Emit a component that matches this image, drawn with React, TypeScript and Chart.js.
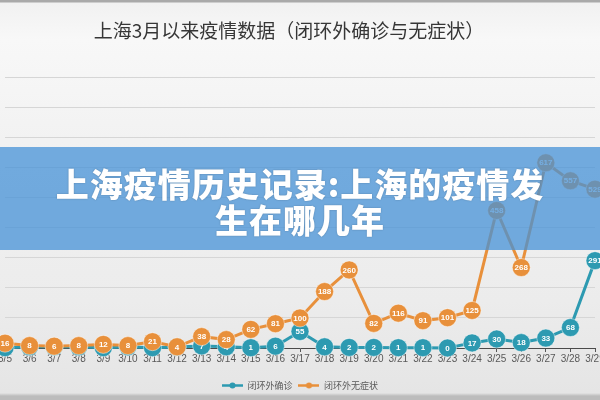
import React, { useEffect, useRef } from "react";
import { Chart, registerables } from "chart.js";

Chart.register(...registerables);

const categories = [
  "3/5", "3/6", "3/7", "3/8", "3/9", "3/10", "3/11", "3/12", "3/13", "3/14",
  "3/15", "3/16", "3/17", "3/18", "3/19", "3/20", "3/21", "3/22", "3/23", "3/24",
  "3/25", "3/26", "3/27", "3/28", "3/29",
];
const confirmedOutside = [
  1, 4, 4, 4, 1, 4, 1, 3, 7, 4,
  1, 6, 55, 4, 2, 2, 1, 1, 0, 17,
  30, 18, 33, 68, 291,
];
const asymptomaticOutside = [
  16, 8, 6, 8, 12, 8, 21, 4, 38, 28,
  62, 81, 100, 188, 260, 82, 116, 91, 101, 125,
  458, 268, 617, 557, 529,
];
const seriesNames = ["闭环外确诊", "闭环外无症状"];
const chartTitle = "上海3月以来疫情数据（闭环外确诊与无症状）";
const bannerLines = ["上海疫情历史记录:上海的疫情发", "生在哪几年"];
const yMin = 0;
const yMax = 900;
const yStep = 100;

const TEAL = "#2d9ab1";
const ORANGE = "#e8903b";

function legendIcon(color: string): HTMLCanvasElement {
  const c = document.createElement("canvas");
  c.width = 21;
  c.height = 7;
  const g = c.getContext("2d")!;
  g.strokeStyle = color;
  g.lineWidth = 2.5;
  g.beginPath();
  g.moveTo(0, 3.5);
  g.lineTo(21, 3.5);
  g.stroke();
  g.fillStyle = color;
  g.beginPath();
  g.arc(10.5, 3.5, 3, 0, Math.PI * 2);
  g.fill();
  return c;
}

const pointLabels = {
  id: "pointLabels",
  afterDatasetDraw(chart: any, args: any) {
    const { ctx } = chart;
    const ds = chart.data.datasets[args.index];
    ctx.save();
    ctx.font = 'bold 8px "Liberation Sans"';
    ctx.fillStyle = "#ffffff";
    ctx.textAlign = "center";
    ctx.textBaseline = "middle";
    args.meta.data.forEach((el: any, i: number) => {
      ctx.fillText(String(ds.data[i]), el.x, el.y + 0.5);
    });
    ctx.restore();
  },
};

export default function App() {
  const ref = useRef<HTMLCanvasElement>(null);

  useEffect(() => {
    const icons = [legendIcon(TEAL), legendIcon(ORANGE)];
    const chart = new Chart(ref.current!, {
      type: "line",
      data: {
        labels: categories,
        datasets: [
          {
            label: seriesNames[0],
            data: confirmedOutside,
            borderColor: TEAL,
            backgroundColor: TEAL,
            pointBackgroundColor: TEAL,
            pointBorderColor: "rgba(255,255,255,0.45)",
            pointBorderWidth: 1,
            pointRadius: 9,
            borderWidth: 3,
            tension: 0,
            order: 1,
            clip: false,
          },
          {
            label: seriesNames[1],
            data: asymptomaticOutside,
            borderColor: ORANGE,
            backgroundColor: ORANGE,
            pointBackgroundColor: ORANGE,
            pointBorderColor: "rgba(255,255,255,0.45)",
            pointBorderWidth: 1,
            pointRadius: 9,
            borderWidth: 3,
            tension: 0,
            order: 0,
            clip: false,
          },
        ],
      },
      options: {
        responsive: false,
        animation: false,
        devicePixelRatio: 1,
        events: [],
        layout: { padding: { left: 11, right: 11, top: 0, bottom: 0 } },
        scales: {
          x: {
            offset: false,
            grid: {
              display: true,
              drawOnChartArea: false,
              drawTicks: true,
              tickLength: 4,
              color: "#555555",
            },
            border: { display: true, color: "#4a4a4a", width: 1 },
            ticks: {
              autoSkip: false,
              maxRotation: 0,
              minRotation: 0,
              padding: 1,
              color: "#595959",
              font: { family: '"Liberation Sans"', size: 10 },
            },
            afterFit: (s: any) => {
              s.height = 27;
            },
          },
          y: {
            min: yMin,
            max: yMax,
            ticks: { display: false, stepSize: yStep },
            grid: { color: "#d6d6d6", drawTicks: false, lineWidth: 1 },
            border: { display: false },
            afterFit: (s: any) => {
              s.width = 22;
            },
          },
        },
        plugins: {
          tooltip: { enabled: false },
          title: {
            display: true,
            text: chartTitle,
            color: "#363636",
            font: { family: '"Noto Sans CJK SC"', size: 19, weight: "normal" },
            padding: { top: 19, bottom: 36 },
          },
          legend: {
            display: true,
            position: "bottom",
            fullSize: false,
            labels: {
              usePointStyle: true,
              pointStyleWidth: 21,
              padding: 6,
              color: "#595959",
              font: { family: '"Noto Sans CJK SC"', size: 9 },
              sort: (a: any, b: any) => a.datasetIndex - b.datasetIndex,
              generateLabels: (c: any) => {
                const items = (Chart.defaults.plugins.legend.labels as any).generateLabels(c);
                return items.map((it: any) => ({ ...it, pointStyle: icons[it.datasetIndex] }));
              },
            },
          },
        },
      },
      plugins: [pointLabels],
    } as any);
    return () => chart.destroy();
  }, []);

  return (
    <div
      style={{
        position: "fixed",
        left: 0,
        top: 0,
        width: 600,
        height: 400,
        overflow: "hidden",
        background:
          "linear-gradient(180deg, #a9a9a9 0px, #a9a9a9 2px, #f1f1f1 3px, #f8f8f8 40px, #f2f2f2 140px, #ececec 300px, #e5e5e5 393px, #bcbcbc 396px, #bcbcbc 400px)",
      }}
    >
      <canvas
        ref={ref}
        width={634}
        height={400}
        style={{ position: "absolute", left: -28, top: 0, width: 634, height: 400 }}
      />
      <div
        style={{
          position: "absolute",
          left: 0,
          top: 147,
          width: 600,
          height: 103,
          boxSizing: "border-box",
          paddingTop: 18,
          background: "rgba(70,145,215,0.75)",
          color: "#ffffff",
          textAlign: "center",
          fontFamily: '"Noto Sans CJK SC", sans-serif',
          fontWeight: 900,
          fontSize: 33,
          lineHeight: "36px",
          letterSpacing: 1,
          textShadow: "0 0 2px rgba(0,0,0,0.25)",
          whiteSpace: "nowrap",
        }}
      >
        {bannerLines[0]}
        <br />
        {bannerLines[1]}
      </div>
    </div>
  );
}
